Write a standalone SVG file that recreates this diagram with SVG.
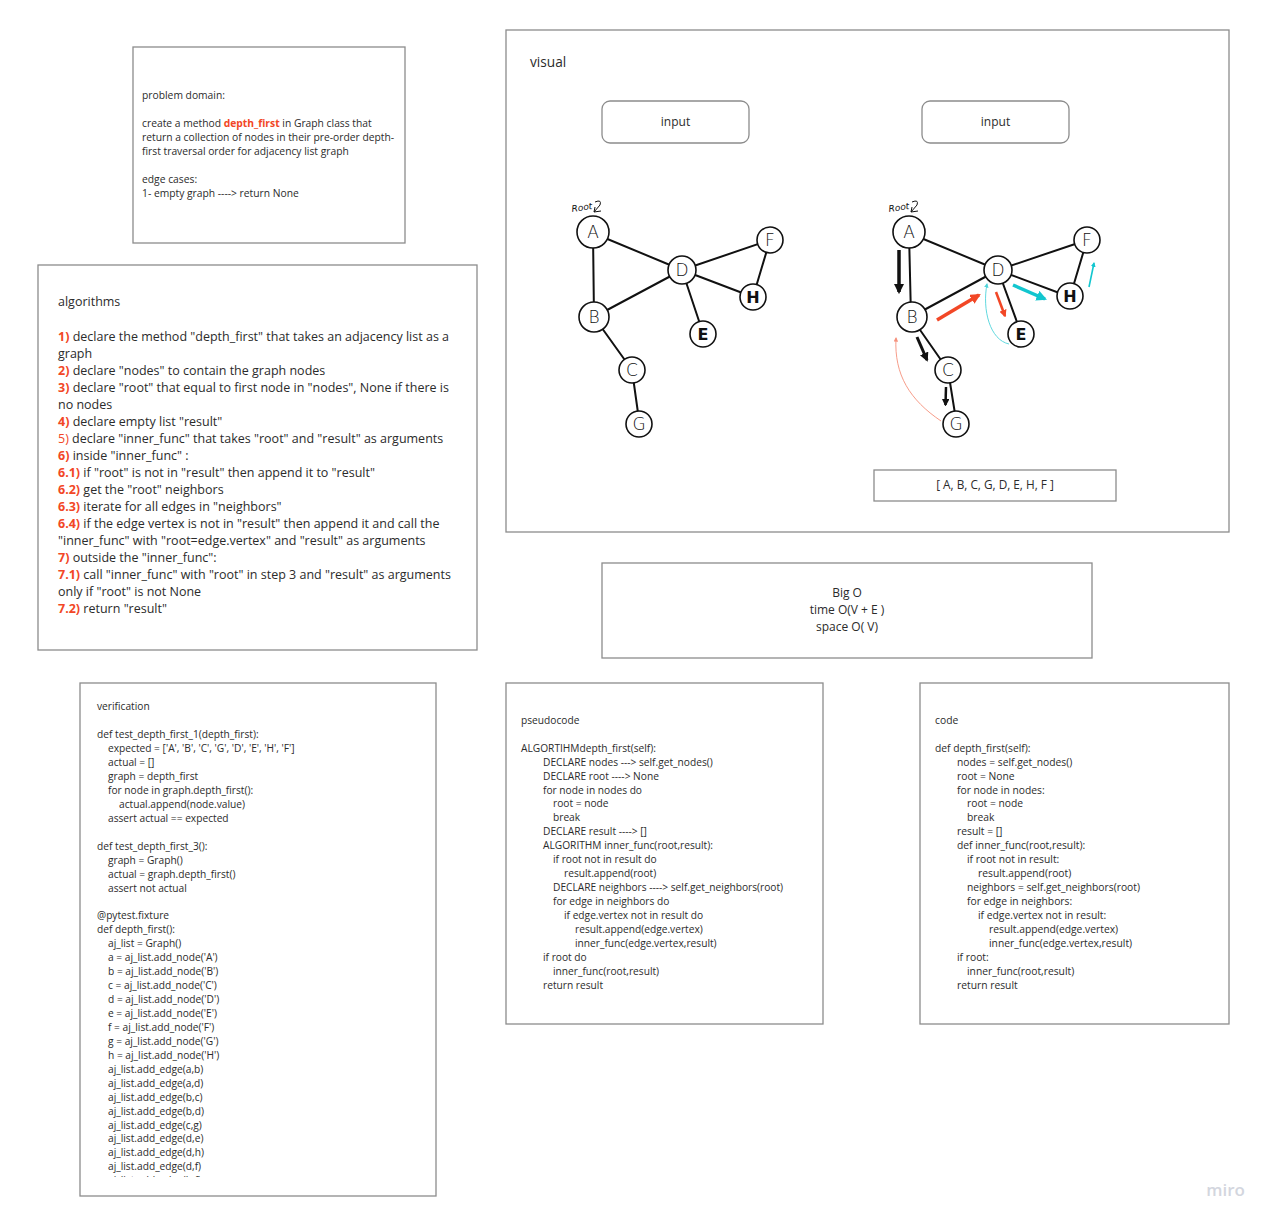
<svg xmlns="http://www.w3.org/2000/svg" width="1274" height="1226" viewBox="0 0 1274 1226">
<style>
.box{fill:#fff;stroke:#8c8c8c;stroke-width:1.3}
.t{font-family:"Open Sans","Noto Sans",sans-serif;fill:#2b2b2b}
.s9{font-size:10.2px}
.s10{font-size:10.3px}
.s12{font-size:12.5px}
.s11{font-size:12px}
.red{fill:#f24726;font-weight:bold}
.redn{fill:#f24726}
.edge{stroke:#111;stroke-width:2;fill:none}
.node{fill:#fff;stroke:#111;stroke-width:1.6}
.lbl{font-family:"DejaVu Sans",sans-serif;font-size:17px;fill:#111;text-anchor:middle;font-weight:300}
.lblb{font-family:"DejaVu Sans",sans-serif;font-size:16px;fill:#111;text-anchor:middle;font-weight:bold}
</style>
<defs>
<marker id="hBlack" viewBox="0 0 10 10" refX="8" refY="5" markerWidth="3" markerHeight="3" orient="auto"><path d="M0,0 L10,5 L0,10 z" fill="#111"/></marker>
<marker id="hRed" viewBox="0 0 10 10" refX="8" refY="5" markerWidth="3" markerHeight="3" orient="auto"><path d="M0,0 L10,5 L0,10 z" fill="#f24726"/></marker>
<marker id="hCyan" viewBox="0 0 10 10" refX="8" refY="5" markerWidth="3" markerHeight="3" orient="auto"><path d="M0,0 L10,5 L0,10 z" fill="#12c6cf"/></marker>
<marker id="hRedThin" viewBox="0 0 10 10" refX="8" refY="5" markerWidth="5" markerHeight="5" orient="auto"><path d="M0,0 L10,5 L0,10 z" fill="#f5917c"/></marker>
<marker id="hCyanThin" viewBox="0 0 10 10" refX="8" refY="5" markerWidth="5" markerHeight="5" orient="auto"><path d="M0,0 L10,5 L0,10 z" fill="#4fd4da"/></marker>
<clipPath id="verClip"><rect x="80" y="683" width="356" height="494"/></clipPath>
</defs>
<rect width="1274" height="1226" fill="#fff"/>

<g id="problem-domain">
<rect class="box" x="133" y="47" width="272" height="196"/>
<text class="t s10" x="142" y="98.5">problem domain:</text>
<text class="t s10" x="142" y="126.5">create a method <tspan class="red">depth_first</tspan> in Graph class that</text>
<text class="t s10" x="142" y="140.5">return a collection of nodes in their pre-order depth-</text>
<text class="t s10" x="142" y="154.5">first traversal order for adjacency list graph</text>
<text class="t s10" x="142" y="182.5">edge cases:</text>
<text class="t s10" x="142" y="196.5">1- empty graph ----&gt; return None</text>
</g>

<g id="algorithms">
<rect class="box" x="38" y="265" width="439" height="385"/>
<text class="t s12" x="58" y="306">algorithms</text>
<text class="t s12" x="58" y="341"><tspan class="red">1)</tspan> declare the method "depth_first" that takes an adjacency list as a</text>
<text class="t s12" x="58" y="358">graph</text>
<text class="t s12" x="58" y="375"><tspan class="red">2)</tspan> declare "nodes" to contain the graph nodes</text>
<text class="t s12" x="58" y="392"><tspan class="red">3)</tspan> declare "root" that equal to first node in "nodes", None if there is</text>
<text class="t s12" x="58" y="409">no nodes</text>
<text class="t s12" x="58" y="426"><tspan class="red">4)</tspan> declare empty list "result"</text>
<text class="t s12" x="58" y="443"><tspan class="redn">5)</tspan> declare "inner_func" that takes "root" and "result" as arguments</text>
<text class="t s12" x="58" y="460"><tspan class="red">6)</tspan> inside "inner_func" :</text>
<text class="t s12" x="58" y="477"><tspan class="red">6.1)</tspan> if "root" is not in "result" then append it to "result"</text>
<text class="t s12" x="58" y="494"><tspan class="red">6.2)</tspan> get the "root" neighbors</text>
<text class="t s12" x="58" y="511"><tspan class="red">6.3)</tspan> iterate for all edges in "neighbors"</text>
<text class="t s12" x="58" y="528"><tspan class="red">6.4)</tspan> if the edge vertex is not in "result" then append it and call the</text>
<text class="t s12" x="58" y="545">"inner_func" with "root=edge.vertex" and "result" as arguments</text>
<text class="t s12" x="58" y="562"><tspan class="red">7)</tspan> outside the "inner_func":</text>
<text class="t s12" x="58" y="579"><tspan class="red">7.1)</tspan> call "inner_func" with "root" in step 3 and "result" as arguments</text>
<text class="t s12" x="58" y="596">only if "root" is not None</text>
<text class="t s12" x="58" y="613"><tspan class="red">7.2)</tspan> return "result"</text>
</g>

<g id="visual">
<rect class="box" x="506" y="30" width="723" height="502"/>
<text class="t" x="530" y="66.5" font-size="13.7">visual</text>
</g>
<g id="input-left">
<rect class="box" x="602" y="101" width="147" height="42" rx="8"/>
<text class="t s11" x="675.5" y="126" text-anchor="middle">input</text>
</g>
<g id="input-right">
<rect class="box" x="922" y="101" width="147" height="42" rx="8"/>
<text class="t s11" x="995.5" y="126" text-anchor="middle">input</text>
</g>

<!-- Left graph -->
<g id="graph-left-edges">
<path class="edge" d="M593,233 L682,270 M593,233 L594,317 M594,317 L682,270 M682,270 L770,240 M682,270 L753,297 M770,240 L753,297 M682,270 L703,333 M594,317 L632,370 M632,370 L639,420"/>
</g>
<g id="graph-left-root">
<text x="572" y="212" font-family="DejaVu Sans,sans-serif" font-size="9" font-style="italic" fill="#111" transform="rotate(-8 572 212)">Root</text>
<path d="M595,202 Q602,199 600,205 L594,212 L601,211 M594,212 L595,207" fill="none" stroke="#111" stroke-width="1"/>
</g>
<g id="node-L-A"><circle class="node" cx="593" cy="232" r="16"/><text class="lbl" x="593" y="238">A</text></g>
<g id="node-L-D"><circle class="node" cx="682" cy="270" r="14"/><text class="lbl" x="682" y="276">D</text></g>
<g id="node-L-F"><circle class="node" cx="770" cy="240" r="13"/><text class="lbl" x="770" y="246">F</text></g>
<g id="node-L-H"><circle class="node" cx="753" cy="297" r="13"/><text class="lblb" x="753" y="303">H</text></g>
<g id="node-L-B"><circle class="node" cx="594" cy="317" r="15"/><text class="lbl" x="594" y="323">B</text></g>
<g id="node-L-E"><circle class="node" cx="703" cy="334" r="13"/><text class="lblb" x="703" y="340">E</text></g>
<g id="node-L-C"><circle class="node" cx="632" cy="370" r="13"/><text class="lbl" x="632" y="376">C</text></g>
<g id="node-L-G"><circle class="node" cx="639" cy="424" r="13"/><text class="lbl" x="639" y="430">G</text></g>

<!-- Right graph -->
<g id="graph-right-edges">
<path class="edge" d="M909,233 L998,270 M909,233 L911,317 M911,317 L998,270 M998,270 L1087,240 M998,270 L1070,297 M1087,240 L1070,297 M998,270 L1021,333 M911,317 L948,370 M948,370 L956,420"/>
</g>
<g id="graph-right-root">
<text x="889" y="212" font-family="DejaVu Sans,sans-serif" font-size="9" font-style="italic" fill="#111" transform="rotate(-8 889 212)">Root</text>
<path d="M912,202 Q919,199 917,205 L911,212 L918,211 M911,212 L912,207" fill="none" stroke="#111" stroke-width="1"/>
</g>
<g id="traversal-arrows">
<path d="M899,250 L899,292" stroke="#111" stroke-width="3.5" fill="none" marker-end="url(#hBlack)"/>
<path d="M917,337 L927,360" stroke="#111" stroke-width="3" fill="none" marker-end="url(#hBlack)"/>
<path d="M946,387 L945.5,405" stroke="#111" stroke-width="2.5" fill="none" marker-end="url(#hBlack)"/>
<path d="M937,320 L979,295" stroke="#f24726" stroke-width="3.5" fill="none" marker-end="url(#hRed)"/>
<path d="M996,292 L1005,316" stroke="#f24726" stroke-width="2.5" fill="none" marker-end="url(#hRed)"/>
<path d="M941,421 C910,400 894,375 896,338" stroke="#f5917c" stroke-width="0.9" fill="none" marker-end="url(#hRedThin)"/>
<path d="M1009,344 C990,340 982,310 987,284" stroke="#4fd4da" stroke-width="0.9" fill="none" marker-end="url(#hCyanThin)"/>
<path d="M1013,285 L1045,299" stroke="#12c6cf" stroke-width="3.5" fill="none" marker-end="url(#hCyan)"/>
<path d="M1089,287 L1094,263" stroke="#12c6cf" stroke-width="1.6" fill="none" marker-end="url(#hCyan)"/>
</g>
<g id="node-R-A"><circle class="node" cx="909" cy="232" r="16"/><text class="lbl" x="909" y="238">A</text></g>
<g id="node-R-D"><circle class="node" cx="998" cy="270" r="14"/><text class="lbl" x="998" y="276">D</text></g>
<g id="node-R-F"><circle class="node" cx="1087" cy="240" r="13"/><text class="lbl" x="1087" y="246">F</text></g>
<g id="node-R-H"><circle class="node" cx="1070" cy="296" r="13"/><text class="lblb" x="1070" y="302">H</text></g>
<g id="node-R-B"><circle class="node" cx="912" cy="317" r="15"/><text class="lbl" x="912" y="323">B</text></g>
<g id="node-R-E"><circle class="node" cx="1021" cy="334" r="13"/><text class="lblb" x="1021" y="340">E</text></g>
<g id="node-R-C"><circle class="node" cx="948" cy="370" r="13"/><text class="lbl" x="948" y="376">C</text></g>
<g id="node-R-G"><circle class="node" cx="956" cy="424" r="13"/><text class="lbl" x="956" y="430">G</text></g>

<g id="result">
<rect class="box" x="874" y="470" width="242" height="31"/>
<text class="t" font-size="11.8" x="995" y="489" text-anchor="middle">[ A, B, C, G, D, E, H, F ]</text>
</g>

<g id="big-o">
<rect class="box" x="602" y="563" width="490" height="95"/>
<text class="t s11" x="847" y="597" text-anchor="middle">Big O</text>
<text class="t s11" x="847" y="614" text-anchor="middle">time O(V + E )</text>
<text class="t s11" x="847" y="631" text-anchor="middle">space O( V)</text>
</g>

<g id="verification">
<rect class="box" x="80" y="683" width="356" height="513"/>
<g clip-path="url(#verClip)" class="t s9">
<text x="97" y="709.5">verification</text>
<text x="97" y="737.5">def test_depth_first_1(depth_first):</text>
<text x="108" y="751.5">expected = ['A', 'B', 'C', 'G', 'D', 'E', 'H', 'F']</text>
<text x="108" y="765.5">actual = []</text>
<text x="108" y="779.5">graph = depth_first</text>
<text x="108" y="793.5">for node in graph.depth_first():</text>
<text x="119" y="807.5">actual.append(node.value)</text>
<text x="108" y="821.5">assert actual == expected</text>
<text x="97" y="849.5">def test_depth_first_3():</text>
<text x="108" y="863.5">graph = Graph()</text>
<text x="108" y="877.5">actual = graph.depth_first()</text>
<text x="108" y="891.5">assert not actual</text>
<text x="97" y="918.5">@pytest.fixture</text>
<text x="97" y="932.5">def depth_first():</text>
<text x="108" y="946.5">aj_list = Graph()</text>
<text x="108" y="960.5">a = aj_list.add_node('A')</text>
<text x="108" y="974.5">b = aj_list.add_node('B')</text>
<text x="108" y="988.5">c = aj_list.add_node('C')</text>
<text x="108" y="1002.5">d = aj_list.add_node('D')</text>
<text x="108" y="1016.5">e = aj_list.add_node('E')</text>
<text x="108" y="1030.5">f = aj_list.add_node('F')</text>
<text x="108" y="1044.5">g = aj_list.add_node('G')</text>
<text x="108" y="1058.5">h = aj_list.add_node('H')</text>
<text x="108" y="1072.5">aj_list.add_edge(a,b)</text>
<text x="108" y="1086.5">aj_list.add_edge(a,d)</text>
<text x="108" y="1100.5">aj_list.add_edge(b,c)</text>
<text x="108" y="1114.5">aj_list.add_edge(b,d)</text>
<text x="108" y="1128.5">aj_list.add_edge(c,g)</text>
<text x="108" y="1141.5">aj_list.add_edge(d,e)</text>
<text x="108" y="1155.5">aj_list.add_edge(d,h)</text>
<text x="108" y="1169.5">aj_list.add_edge(d,f)</text>
<text x="108" y="1183.5">aj_list.add_edge(h,f)</text>
</g>
</g>

<g id="pseudocode" class="t s9">
<rect class="box" x="506" y="683" width="317" height="341"/>
<text x="521" y="723.5">pseudocode</text>
<text x="521" y="751.5">ALGORTIHMdepth_first(self):</text>
<text x="543" y="765.5">DECLARE nodes ---&gt; self.get_nodes()</text>
<text x="543" y="779.5">DECLARE root ----&gt; None</text>
<text x="543" y="793.5">for node in nodes do</text>
<text x="553" y="806.5">root = node</text>
<text x="553" y="820.5">break</text>
<text x="543" y="834.5">DECLARE result ----&gt; []</text>
<text x="543" y="848.5">ALGORITHM inner_func(root,result):</text>
<text x="553" y="862.5">if root not in result do</text>
<text x="564" y="876.5">result.append(root)</text>
<text x="553" y="890.5">DECLARE neighbors ----&gt; self.get_neighbors(root)</text>
<text x="553" y="904.5">for edge in neighbors do</text>
<text x="564" y="918.5">if edge.vertex not in result do</text>
<text x="575" y="932.5">result.append(edge.vertex)</text>
<text x="575" y="946.5">inner_func(edge.vertex,result)</text>
<text x="543" y="960.5">if root do</text>
<text x="553" y="974.5">inner_func(root,result)</text>
<text x="543" y="988.5">return result</text>
</g>

<g id="code" class="t s10">
<rect class="box" x="920" y="683" width="309" height="341"/>
<text x="935" y="723.5">code</text>
<text x="935" y="751.5">def depth_first(self):</text>
<text x="957" y="765.5">nodes = self.get_nodes()</text>
<text x="957" y="779.5">root = None</text>
<text x="957" y="793.5">for node in nodes:</text>
<text x="967" y="806.5">root = node</text>
<text x="967" y="820.5">break</text>
<text x="957" y="834.5">result = []</text>
<text x="957" y="848.5">def inner_func(root,result):</text>
<text x="967" y="862.5">if root not in result:</text>
<text x="978" y="876.5">result.append(root)</text>
<text x="967" y="890.5">neighbors = self.get_neighbors(root)</text>
<text x="967" y="904.5">for edge in neighbors:</text>
<text x="978" y="918.5">if edge.vertex not in result:</text>
<text x="989" y="932.5">result.append(edge.vertex)</text>
<text x="989" y="946.5">inner_func(edge.vertex,result)</text>
<text x="957" y="960.5">if root:</text>
<text x="967" y="974.5">inner_func(root,result)</text>
<text x="957" y="988.5">return result</text>
</g>

<text x="1245" y="1196" text-anchor="end" font-family="Open Sans,sans-serif" font-size="17" font-weight="600" fill="#d3d6de">miro</text>
</svg>
